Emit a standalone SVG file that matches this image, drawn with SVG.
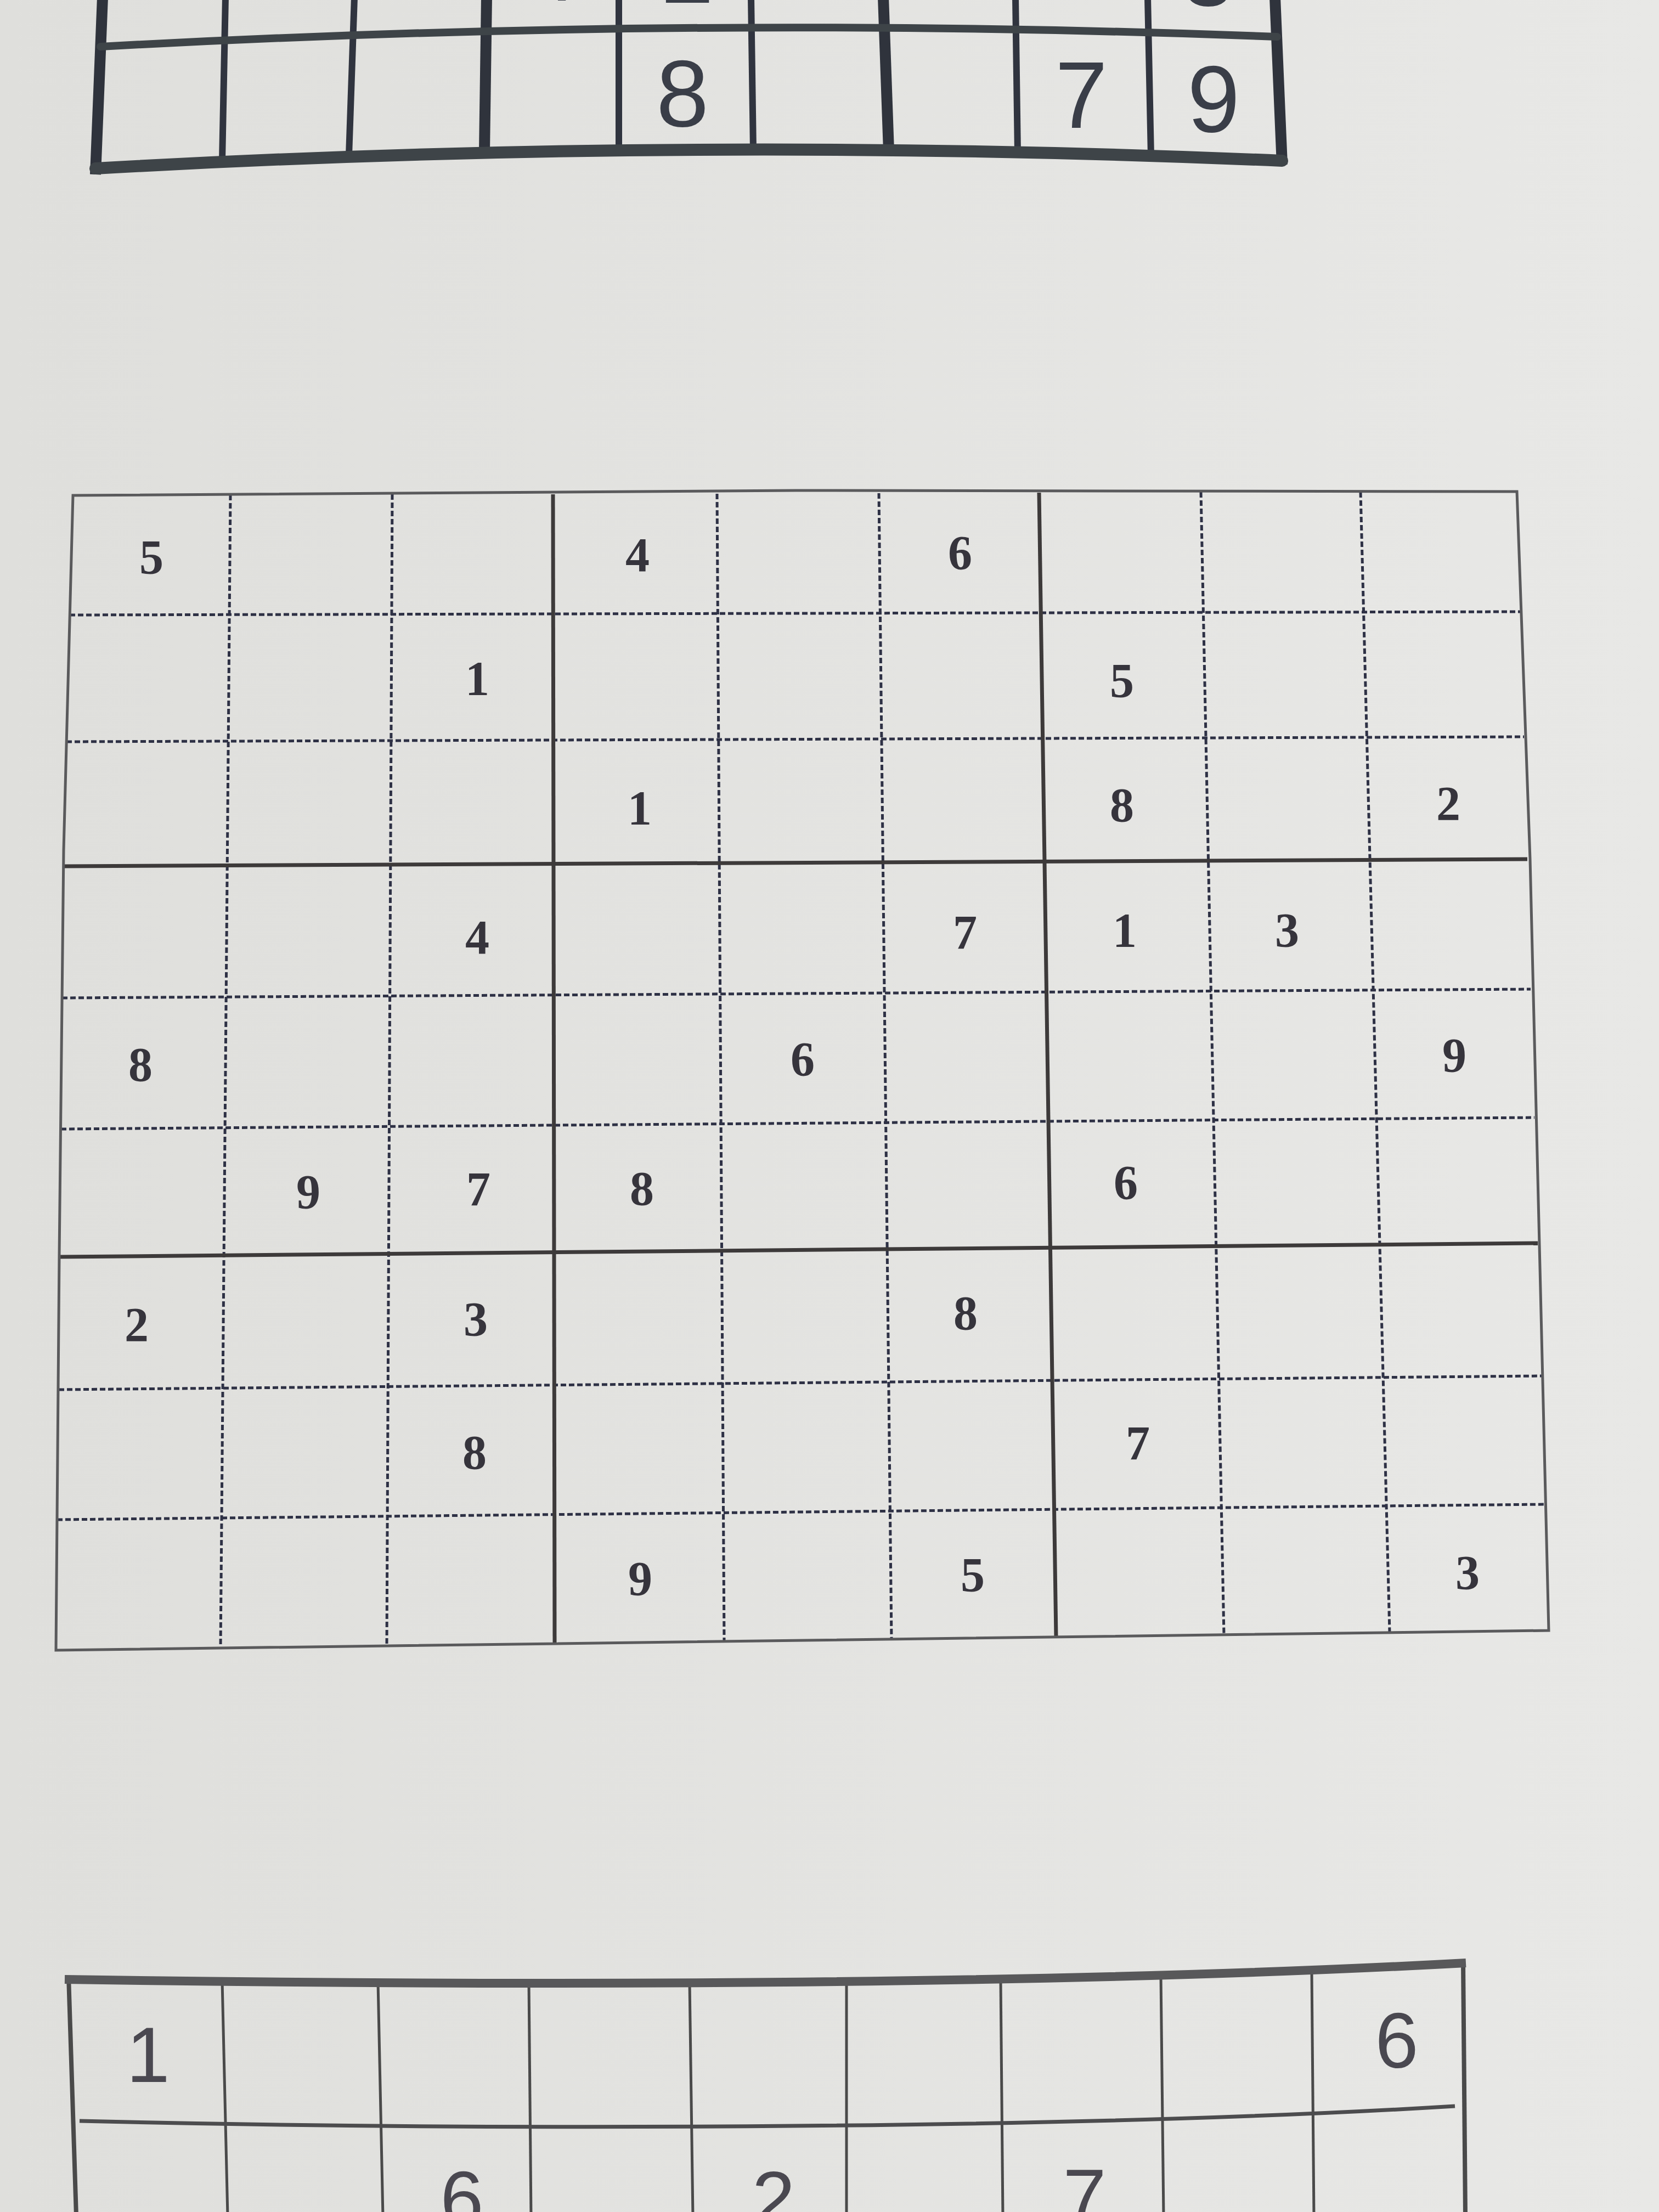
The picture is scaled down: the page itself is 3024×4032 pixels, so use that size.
<svg xmlns="http://www.w3.org/2000/svg" width="3024" height="4032" viewBox="0 0 3024 4032">
  <defs>
    <linearGradient id="paper" x1="0" y1="0" x2="1" y2="0">
      <stop offset="0" stop-color="#dfdfdc"/>
      <stop offset="1" stop-color="#e8e8e6"/>
    </linearGradient>
    <style>
      .tg-thin { stroke: #30343f; stroke-width: 12; fill: none; }
      .tg-thick { stroke: #2f333c; stroke-width: 20; fill: none; }
      .tg-h { stroke: #3e4448; fill: none; stroke-linecap: round; }
      .tg-num { font-family: "Liberation Sans", Arial, sans-serif; font-size: 172px; fill: #3a3e48; text-anchor: middle; }
      .mg-border { stroke: #5a5a5c; stroke-width: 5; fill: none; stroke-linejoin: miter; }
      .mg-box { stroke: #3d3a3a; stroke-width: 7; fill: none; }
      .mg-dash { stroke: #2e3145; stroke-width: 5; fill: none; stroke-dasharray: 10 5; }
      .mg-num { font-family: "Liberation Serif", "Times New Roman", serif; font-weight: bold; font-size: 88px; fill: #36343c; text-anchor: middle; }
      .bg-line { stroke: #4a4a4a; stroke-width: 5; fill: none; }
      .bg-border { stroke: #4a4a4a; stroke-width: 8; fill: none; }
      .bg-num { font-family: "Liberation Sans", Arial, sans-serif; font-size: 142px; fill: #4a4850; text-anchor: middle; }
    </style>
  </defs>

  <rect x="0" y="0" width="3024" height="4032" fill="url(#paper)"/>

  <!-- Top partial grid -->
  <g id="top-grid">
    <g id="top-grid-lines">
      <line class="tg-thick" x1="187" y1="-5" x2="174" y2="318"/>
      <line class="tg-thin" x1="411" y1="-5" x2="405" y2="292"/>
      <line class="tg-thin" x1="646" y1="-5" x2="636" y2="283"/>
      <line class="tg-thick" x1="887" y1="-5" x2="883" y2="276"/>
      <line class="tg-thin" x1="1128" y1="-5" x2="1128" y2="273"/>
      <line class="tg-thin" x1="1369" y1="-5" x2="1373" y2="273"/>
      <line class="tg-thick" x1="1610" y1="-5" x2="1620" y2="275"/>
      <line class="tg-thin" x1="1851" y1="-5" x2="1855" y2="279"/>
      <line class="tg-thin" x1="2092" y1="-5" x2="2098" y2="285"/>
      <line class="tg-thick" x1="2324" y1="-5" x2="2337" y2="300"/>
      <path class="tg-h" stroke-width="14" d="M 183 85 Q 1254 26 2328 67"/>
      <path class="tg-h" stroke-width="22" d="M 174 307 Q 1250 246 2337 293"/>
    </g>
    <g id="top-grid-digits">
      <text class="tg-num" x="1005" y="1">4</text>
      <text class="tg-num" x="1253" y="5">2</text>
      <text class="tg-num" x="1482" y="-2">3</text>
      <text class="tg-num" x="2202" y="10">3</text>
      <text class="tg-num" x="1244" y="230">8</text>
      <text class="tg-num" x="1971" y="233">7</text>
      <text class="tg-num" x="2212" y="240">9</text>
    </g>
  </g>

  <!-- Main sudoku grid -->
  <g id="main-grid">
    <g id="main-grid-lines">
      <!-- inner dashed horizontals -->
      <line class="mg-dash" x1="127" y1="1121" x2="2771" y2="1115"/>
      <line class="mg-dash" x1="121" y1="1352" x2="2778" y2="1343"/>
      <line class="mg-dash" x1="113" y1="1819" x2="2790" y2="1803"/>
      <line class="mg-dash" x1="111" y1="2058" x2="2797" y2="2037"/>
      <line class="mg-dash" x1="107" y1="2533" x2="2810" y2="2508"/>
      <line class="mg-dash" x1="104" y1="2770" x2="2817" y2="2742"/>
      <!-- inner dashed verticals -->
      <line class="mg-dash" x1="420" y1="902" x2="402" y2="3004"/>
      <line class="mg-dash" x1="715" y1="901" x2="705" y2="3000"/>
      <line class="mg-dash" x1="1307" y1="900" x2="1320" y2="2992"/>
      <line class="mg-dash" x1="1602" y1="899" x2="1625" y2="2988"/>
      <line class="mg-dash" x1="2189" y1="897" x2="2231" y2="2980"/>
      <line class="mg-dash" x1="2480" y1="897" x2="2533" y2="2976"/>
      <!-- box lines -->
      <line class="mg-box" x1="116" y1="1579" x2="2784" y2="1566"/>
      <line class="mg-box" x1="109" y1="2291" x2="2803" y2="2266"/>
      <line class="mg-box" x1="1008" y1="901" x2="1011" y2="2996"/>
      <line class="mg-box" x1="1894" y1="898" x2="1925" y2="2984"/>
      <!-- outer border -->
      <path class="mg-border" d="M 133 903 L 1450 894 L 2765 896 L 2789 1566 L 2823 2972 L 102 3008 L 108 2290 L 116 1550 Z"/>
    </g>
    <g id="main-grid-digits">
      <text class="mg-num" x="276" y="1045">5</text>
      <text class="mg-num" x="1162" y="1041">4</text>
      <text class="mg-num" x="1750" y="1037">6</text>

      <text class="mg-num" x="870" y="1266">1</text>
      <text class="mg-num" x="2045" y="1270">5</text>

      <text class="mg-num" x="1166" y="1502">1</text>
      <text class="mg-num" x="2045" y="1497">8</text>
      <text class="mg-num" x="2640" y="1494">2</text>

      <text class="mg-num" x="870" y="1738">4</text>
      <text class="mg-num" x="1759" y="1729">7</text>
      <text class="mg-num" x="2050" y="1725">1</text>
      <text class="mg-num" x="2346" y="1725">3</text>

      <text class="mg-num" x="256" y="1970">8</text>
      <text class="mg-num" x="1463" y="1960">6</text>
      <text class="mg-num" x="2651" y="1953">9</text>

      <text class="mg-num" x="562" y="2202">9</text>
      <text class="mg-num" x="872" y="2197">7</text>
      <text class="mg-num" x="1170" y="2196">8</text>
      <text class="mg-num" x="2052" y="2185">6</text>

      <text class="mg-num" x="249" y="2444">2</text>
      <text class="mg-num" x="867" y="2434">3</text>
      <text class="mg-num" x="1760" y="2423">8</text>

      <text class="mg-num" x="865" y="2677">8</text>
      <text class="mg-num" x="2074" y="2660">7</text>

      <text class="mg-num" x="1167" y="2907">9</text>
      <text class="mg-num" x="1773" y="2900">5</text>
      <text class="mg-num" x="2675" y="2896">3</text>
    </g>
  </g>

  <!-- Bottom partial grid -->
  <g id="bottom-grid">
    <g id="bottom-grid-lines">
      <line class="bg-line" x1="405" y1="3611" x2="415" y2="4040"/>
      <line class="bg-line" x1="689" y1="3613" x2="698" y2="4040"/>
      <line class="bg-line" x1="964" y1="3614" x2="968" y2="4040"/>
      <line class="bg-line" x1="1257" y1="3614" x2="1263" y2="4040"/>
      <line class="bg-line" x1="1543" y1="3612" x2="1543" y2="4040"/>
      <line class="bg-line" x1="1824" y1="3609" x2="1828" y2="4040"/>
      <line class="bg-line" x1="2116" y1="3602" x2="2121" y2="4040"/>
      <line class="bg-line" x1="2391" y1="3594" x2="2395" y2="4040"/>
      <line class="bg-border" x1="125" y1="3602" x2="139" y2="4040"/>
      <line class="bg-border" x1="2667" y1="3574" x2="2671" y2="4040"/>
      <path stroke="#58585a" stroke-width="16" fill="none" d="M 118 3608 C 900 3620, 1900 3620, 2672 3578"/>
      <path stroke="#4c4c4e" stroke-width="7" fill="none" d="M 145 3866 C 800 3882, 1900 3885, 2652 3839"/>
    </g>
    <g id="bottom-grid-digits">
      <text class="bg-num" x="270" y="3795">1</text>
      <text class="bg-num" x="2546" y="3769">6</text>
      <text class="bg-num" x="842" y="4058">6</text>
      <text class="bg-num" x="1410" y="4058">2</text>
      <text class="bg-num" x="1977" y="4054">7</text>
    </g>
  </g>
</svg>
